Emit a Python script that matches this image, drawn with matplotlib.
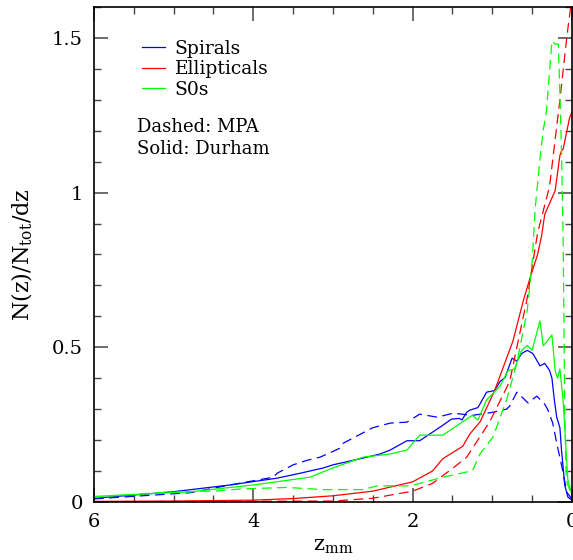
import numpy as np
import matplotlib
matplotlib.use('Agg')
import matplotlib.pyplot as plt
from matplotlib.lines import Line2D
from matplotlib.ticker import MultipleLocator

plt.rcParams['font.family'] = ['DejaVu Serif']
plt.rcParams['mathtext.fontset'] = 'dejavuserif'
plt.rcParams['lines.scale_dashes'] = False

# Spirals, Durham (solid)
sp_dur_z = [6.0, 5.01, 4.29, 3.70, 3.41, 3.12, 3.0, 2.62, 2.57, 2.41, 2.28, 2.07, 1.91,
            1.62, 1.51, 1.41, 1.38, 1.32, 1.28, 1.18, 1.07, 0.97, 0.90, 0.84, 0.75,
            0.69, 0.63, 0.56, 0.49, 0.40, 0.34, 0.28, 0.25, 0.22, 0.19, 0.15, 0.13,
            0.11, 0.09, 0.05, 0.0]
sp_dur_n = [0.012, 0.033, 0.055, 0.077, 0.093, 0.11, 0.12, 0.142, 0.145, 0.155, 0.168,
            0.198, 0.198, 0.248, 0.268, 0.27, 0.265, 0.29, 0.297, 0.305, 0.355, 0.36,
            0.39, 0.402, 0.465, 0.455, 0.48, 0.49, 0.48, 0.44, 0.448, 0.425, 0.40,
            0.33, 0.274, 0.24, 0.168, 0.113, 0.055, 0.016, 0.006]

# Spirals, MPA (dashed)
sp_mpa_z = [6.0, 4.79, 4.29, 3.75, 3.70, 3.50, 3.32, 3.16, 2.91, 2.87, 2.50, 2.28,
            2.07, 1.91, 1.69, 1.49, 1.25, 0.99, 0.82, 0.78, 0.69, 0.55, 0.44, 0.34,
            0.30, 0.24, 0.19, 0.13, 0.10, 0.06, 0.0]
sp_mpa_n = [0.010, 0.03, 0.055, 0.08, 0.093, 0.12, 0.135, 0.145, 0.174, 0.19, 0.24,
            0.255, 0.258, 0.284, 0.274, 0.287, 0.28, 0.29, 0.30, 0.31, 0.355, 0.32,
            0.342, 0.316, 0.297, 0.255, 0.19, 0.12, 0.08, 0.03, 0.01]

# Ellipticals, Durham (solid)
el_dur_z = [6.0, 5.0, 4.0, 3.5, 3.0, 2.5, 2.0, 1.75, 1.62, 1.37, 1.28, 1.15, 0.97,
            0.74, 0.61, 0.53, 0.43, 0.38, 0.34, 0.21, 0.15, 0.13, 0.11, 0.03, 0.0]
el_dur_n = [0.002, 0.003, 0.006, 0.011, 0.02, 0.035, 0.065, 0.10, 0.14, 0.18, 0.22,
            0.26, 0.36, 0.52, 0.65, 0.72, 0.80, 0.86, 0.93, 1.006, 1.12,
            1.135, 1.14, 1.24, 1.26]

# Ellipticals, MPA (dashed)
el_mpa_z = [6.0, 3.0, 2.5, 2.0, 1.75, 1.49, 1.32, 1.03, 0.78, 0.56, 0.43, 0.28, 0.15,
            0.06, 0.0]
el_mpa_n = [0.001, 0.003, 0.012, 0.035, 0.06, 0.11, 0.145, 0.26, 0.39, 0.66, 0.87,
            1.02, 1.30, 1.51, 1.63]

# S0s, Durham (solid)
s0_dur_z = [6.0, 4.79, 4.0, 3.29, 3.0, 2.62, 2.28, 2.07, 1.91, 1.62, 1.28, 1.25, 1.18,
            1.07, 0.90, 0.80, 0.72, 0.63, 0.56, 0.50, 0.40, 0.36, 0.31, 0.25, 0.21,
            0.18, 0.15, 0.11, 0.08, 0.05, 0.0]
s0_dur_n = [0.018, 0.033, 0.055, 0.08, 0.11, 0.145, 0.155, 0.168, 0.216, 0.216, 0.275,
            0.28, 0.265, 0.33, 0.375, 0.425, 0.43, 0.49, 0.506, 0.49, 0.585, 0.505,
            0.52, 0.54, 0.425, 0.40, 0.43, 0.33, 0.20, 0.07, 0.025]

# S0s, MPA (dashed)
s0_mpa_z = [6.0, 5.21, 4.45, 4.17, 3.58, 3.12, 2.62, 2.45, 2.03, 1.62, 1.32, 1.25,
            1.15, 0.99, 0.82, 0.69, 0.56, 0.50, 0.46, 0.40, 0.36, 0.32, 0.25, 0.21,
            0.17, 0.15, 0.13, 0.11, 0.10, 0.09, 0.07, 0.03, 0.0]
s0_mpa_n = [0.015, 0.03, 0.036, 0.042, 0.047, 0.04, 0.04, 0.052, 0.052, 0.08, 0.097,
            0.10, 0.157, 0.21, 0.33, 0.45, 0.62, 0.77, 0.95, 1.11, 1.20, 1.26, 1.49,
            1.48, 1.48, 1.32, 1.135, 0.87, 0.60, 0.30, 0.07, 0.04, 0.02]

blue, red, green = '#0000ff', '#ff0000', '#00ff00'
dash = (0, (7, 4))
lw = 0.9

fig = plt.figure(figsize=(5.73, 5.60), dpi=100)
ax = fig.add_axes([0.164, 0.1036, 0.834, 0.884])

ax.plot(sp_dur_z, sp_dur_n, color=blue, lw=lw)
ax.plot(sp_mpa_z, sp_mpa_n, color=blue, lw=lw, ls=dash)
ax.plot(el_dur_z, el_dur_n, color=red, lw=lw)
ax.plot(el_mpa_z, el_mpa_n, color=red, lw=lw, ls=dash)
ax.plot(s0_dur_z, s0_dur_n, color=green, lw=lw)
ax.plot(s0_mpa_z, s0_mpa_n, color=green, lw=lw, ls=dash)

ax.set_xlim(6, 0)
ax.set_ylim(0, 1.6)
ax.xaxis.set_minor_locator(MultipleLocator(0.5))
ax.yaxis.set_minor_locator(MultipleLocator(0.1))
ax.set_yticks([0, 0.5, 1, 1.5])
ax.set_yticklabels(['0', '0.5', '1', '1.5'])
ax.set_xticks([6, 4, 2, 0])
ax.set_xticklabels(['6', '4', '2', '0'])
ax.tick_params(which='both', direction='in', top=True, right=True,
               labelsize=14, color='#444444')
ax.tick_params(which='major', length=10, width=1.1, pad=8)
ax.tick_params(which='minor', length=5, width=1.0)
for s in ax.spines.values():
    s.set_linewidth(1.2)

ax.set_xlabel(r'$\mathregular{z_{mm}}$', fontsize=15, labelpad=4)
ax.set_ylabel(r'$\mathregular{N(z)/N_{tot}/dz}$', fontsize=16, labelpad=12)

handles = [Line2D([], [], color=blue, lw=lw),
           Line2D([], [], color=red, lw=lw),
           Line2D([], [], color=green, lw=lw)]
ax.legend(handles, ['Spirals', 'Ellipticals', 'S0s'], loc='upper left',
          bbox_to_anchor=(0.10, 0.934), frameon=False, fontsize=13.5,
          handlelength=1.25, handletextpad=0.5, labelspacing=0.14,
          borderpad=0, borderaxespad=0)
ax.text(0.09, 0.758, 'Dashed: MPA', transform=ax.transAxes, fontsize=13, va='center')
ax.text(0.09, 0.713, 'Solid: Durham', transform=ax.transAxes, fontsize=13, va='center')

fig.savefig('out.png', dpi=100)
